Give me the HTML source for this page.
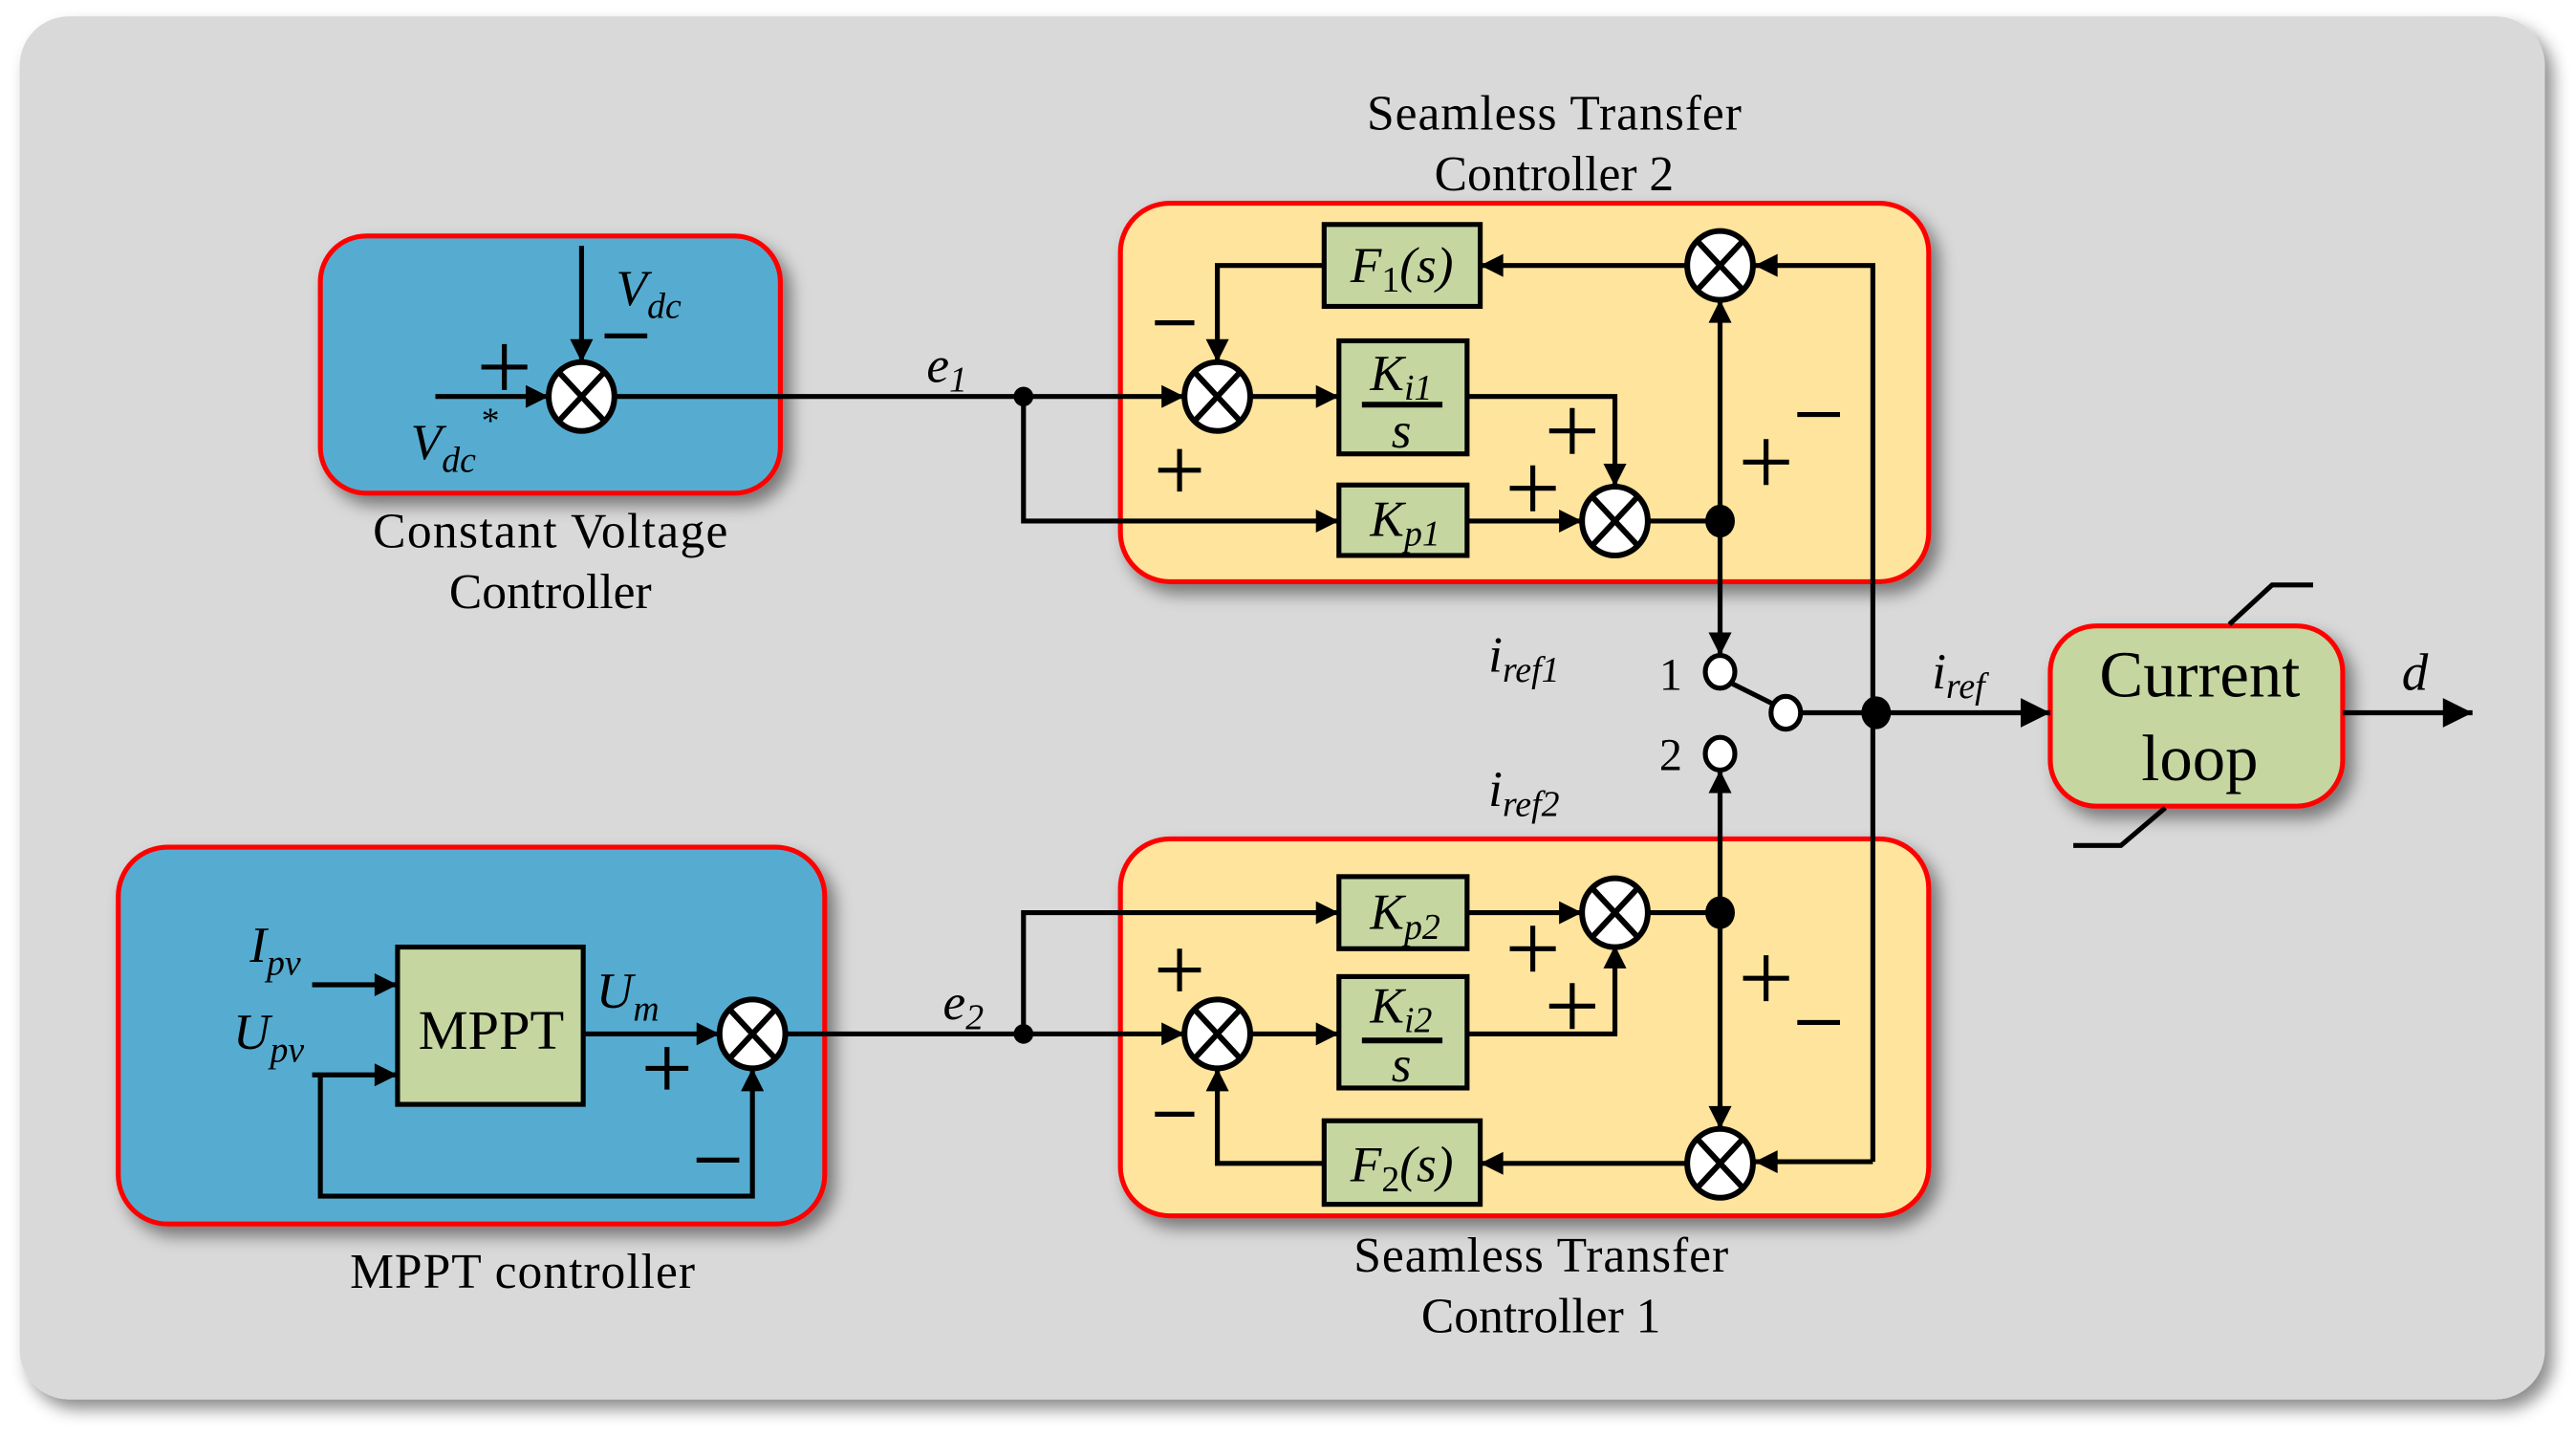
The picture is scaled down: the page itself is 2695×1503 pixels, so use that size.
<!DOCTYPE html>
<html><head><meta charset="utf-8"><style>
html,body{margin:0;padding:0;background:#fff;}
svg{display:block;}
text{font-family:"Liberation Serif",serif;fill:#000;}
.it{font-style:italic;}
</style></head><body>
<svg width="2695" height="1503" viewBox="0 0 1568 877" preserveAspectRatio="none" xmlns="http://www.w3.org/2000/svg">
<defs>
<marker id="a" viewBox="0 0 10 10" refX="10" refY="5" markerWidth="15" markerHeight="14" markerUnits="userSpaceOnUse" orient="auto">
<path d="M0,0 L10,5 L0,10 z" fill="#000"/></marker>
<marker id="b" viewBox="0 0 10 10" refX="10" refY="5" markerWidth="24" markerHeight="18" markerUnits="userSpaceOnUse" orient="auto">
<path d="M0,0 L10,5 L0,10 z" fill="#000"/></marker>
<filter id="sh" x="-10%" y="-10%" width="130%" height="130%"><feDropShadow dx="5" dy="6" stdDeviation="5" flood-color="#000" flood-opacity="0.45"/></filter>
<g id="sum"><ellipse cx="0" cy="0" rx="20" ry="21" fill="#fff" stroke="#000" stroke-width="3.5"/>
<line x1="-13" y1="-14" x2="13" y2="14" stroke="#000" stroke-width="3.5"/><line x1="13" y1="-14" x2="-13" y2="14" stroke="#000" stroke-width="3.5"/></g>
</defs>
<rect x="0" y="0" width="1568" height="877" fill="#fff"/>
<rect x="12" y="10" width="1537" height="844" rx="30" fill="#d9d9d9" filter="url(#sh)"/>

<rect x="195" y="144" width="280" height="157" rx="28" fill="#56acd0" stroke="#f00" stroke-width="3" filter="url(#sh)"/>
<rect x="72" y="517" width="430" height="230" rx="30" fill="#56acd0" stroke="#f00" stroke-width="3" filter="url(#sh)"/>
<rect x="682" y="124" width="492" height="231" rx="30" fill="#fee49c" stroke="#f00" stroke-width="3" filter="url(#sh)"/>
<rect x="682" y="512" width="492" height="230" rx="30" fill="#fee49c" stroke="#f00" stroke-width="3" filter="url(#sh)"/>
<rect x="1248" y="382" width="178" height="110" rx="28" fill="#c5d6a1" stroke="#f00" stroke-width="3" filter="url(#sh)"/>

<g fill="#c5d6a1" stroke="#000" stroke-width="3">
<rect x="806" y="137" width="95" height="50"/>
<rect x="815" y="208" width="78" height="69"/>
<rect x="815" y="296" width="78" height="43"/>
<rect x="815" y="535" width="78" height="44"/>
<rect x="815" y="596" width="78" height="68"/>
<rect x="806" y="684" width="95" height="51"/>
<rect x="242" y="578" width="113" height="96"/>
</g>

<g stroke="#000" stroke-width="3" fill="none">
<line x1="354" y1="150" x2="354" y2="221" marker-end="url(#a)"/>
<line x1="265" y1="242" x2="334" y2="242" marker-end="url(#a)"/>
<line x1="374" y1="242" x2="721" y2="242" marker-end="url(#a)"/>
<polyline points="623,242 623,318 815,318" marker-end="url(#a)"/>
<polyline points="1140,709 1140,162 1068,162" marker-end="url(#a)"/>
<line x1="1027" y1="162" x2="901" y2="162" marker-end="url(#a)"/>
<polyline points="806,162 741,162 741,221" marker-end="url(#a)"/>
<line x1="761" y1="242" x2="815" y2="242" marker-end="url(#a)"/>
<polyline points="893,242 983,242 983,297" marker-end="url(#a)"/>
<line x1="893" y1="318" x2="963" y2="318" marker-end="url(#a)"/>
<line x1="1003" y1="318" x2="1047" y2="318"/>
<line x1="1047" y1="318" x2="1047" y2="183" marker-end="url(#a)"/>
<line x1="1047" y1="318" x2="1047" y2="400" marker-end="url(#a)"/>
<line x1="479" y1="631" x2="721" y2="631" marker-end="url(#a)"/>
<polyline points="623,631 623,557 815,557" marker-end="url(#a)"/>
<line x1="893" y1="557" x2="963" y2="557" marker-end="url(#a)"/>
<polyline points="893,631 983,631 983,577" marker-end="url(#a)"/>
<line x1="761" y1="631" x2="815" y2="631" marker-end="url(#a)"/>
<line x1="1003" y1="557" x2="1047" y2="557"/>
<line x1="1047" y1="557" x2="1047" y2="470" marker-end="url(#a)"/>
<line x1="1047" y1="557" x2="1047" y2="689" marker-end="url(#a)"/>
<polyline points="1140,709 1068,709" marker-end="url(#a)"/>
<line x1="1027" y1="710" x2="901" y2="710" marker-end="url(#a)"/>
<polyline points="806,710 741,710 741,652" marker-end="url(#a)"/>
<line x1="190" y1="601" x2="242" y2="601" marker-end="url(#a)"/>
<line x1="190" y1="656" x2="242" y2="656" marker-end="url(#a)"/>
<polyline points="195,656 195,730 458,730 458,652" marker-end="url(#a)"/>
<line x1="355" y1="631" x2="438" y2="631" marker-end="url(#a)"/>
<line x1="1054" y1="417" x2="1080" y2="430"/>
<line x1="1097" y1="435" x2="1248" y2="435" marker-end="url(#b)"/>
<line x1="1426" y1="435" x2="1505" y2="435" marker-end="url(#b)"/>
<polyline points="1357,381 1383,357 1408,357"/>
<polyline points="1318,493 1291,516 1262,516"/>
</g>

<use href="#sum" x="354" y="242"/>
<use href="#sum" x="741" y="242"/>
<use href="#sum" x="1047" y="162"/>
<use href="#sum" x="983" y="318"/>
<use href="#sum" x="983" y="557"/>
<use href="#sum" x="741" y="631"/>
<use href="#sum" x="1047" y="710"/>
<use href="#sum" x="458" y="631"/>

<g fill="#000">
<circle cx="623" cy="242" r="6"/><circle cx="623" cy="631" r="6"/>
<ellipse cx="1047" cy="318" rx="9" ry="10"/><ellipse cx="1047" cy="557" rx="9" ry="10"/>
<ellipse cx="1142" cy="435" rx="9" ry="10"/>
</g>
<g fill="#fff" stroke="#000" stroke-width="3">
<ellipse cx="1047" cy="410" rx="9" ry="10"/>
<ellipse cx="1047" cy="460" rx="9" ry="10"/>
<ellipse cx="1087" cy="435" rx="9" ry="10"/>
</g>

<g stroke="#000" stroke-width="3">
<path d="M293,224h28M307,210v28"/><path d="M368,205h26"/>
<path d="M703,197h24"/><path d="M705,287h26M718,274v26"/>
<path d="M943,263h28M957,249v28"/><path d="M919,298h28M933,284v28"/>
<path d="M1061,282h28M1075,268v28"/><path d="M1094,253h26"/>
<path d="M705,592h26M718,579v26"/><path d="M703,680h24"/>
<path d="M919,579h28M933,565v28"/><path d="M943,614h28M957,600v28"/>
<path d="M1061,597h28M1075,583v28"/><path d="M1094,624h26"/>
<path d="M393,652h26M406,639v26"/><path d="M424,708h26"/>
</g>

<g font-size="30" text-anchor="middle">
<text x="946" y="79" textLength="228">Seamless Transfer</text>
<text x="946" y="116">Controller 2</text>
<text x="938" y="776" textLength="228">Seamless Transfer</text>
<text x="938" y="813">Controller 1</text>
<text x="335" y="334" textLength="216">Constant Voltage</text>
<text x="335" y="371">Controller</text>
<text x="318" y="786" textLength="210">MPPT controller</text>
<text x="299" y="640" font-size="34">MPPT</text>
<text x="1339" y="425" font-size="40">Current</text>
<text x="1339" y="476" font-size="40">loop</text>
<text x="1017" y="421" font-size="28">1</text>
<text x="1017" y="470" font-size="28">2</text>
</g>
<g font-size="31" class="it">
<text x="375" y="186" class="it">V<tspan font-size="22" dy="8">dc</tspan></text>
<text x="250" y="280" class="it">V<tspan font-size="22" dy="8">dc</tspan></text>
<text x="292" y="264" font-size="22">*</text>
<text x="564" y="233" class="it">e<tspan font-size="22" dy="6">1</tspan></text>
<text x="574" y="622" class="it">e<tspan font-size="22" dy="6">2</tspan></text>
<text x="152" y="587" class="it">I<tspan font-size="22" dy="8">pv</tspan></text>
<text x="142" y="640" class="it">U<tspan font-size="22" dy="8">pv</tspan></text>
<text x="363" y="615" class="it">U<tspan font-size="22" dy="8">m</tspan></text>
<text x="906" y="410" class="it">i<tspan font-size="22" dy="6">ref1</tspan></text>
<text x="906" y="492" class="it">i<tspan font-size="22" dy="6">ref2</tspan></text>
<text x="1176" y="420" class="it">i<tspan font-size="22" dy="6">ref</tspan></text>
<text x="1462" y="421" class="it" font-size="32">d</text>
<text x="822" y="172" class="it">F<tspan font-style="normal" font-size="22" dy="6">1</tspan><tspan dy="-6">(s)</tspan></text>
<text x="822" y="721" class="it">F<tspan font-style="normal" font-size="22" dy="6">2</tspan><tspan dy="-6">(s)</tspan></text>
<text x="834" y="238" class="it">K<tspan font-size="22" dy="6">i1</tspan></text>
<text x="853" y="273" class="it" text-anchor="middle">s</text>
<text x="834" y="327" class="it">K<tspan font-size="22" dy="6">p1</tspan></text>
<text x="834" y="567" class="it">K<tspan font-size="22" dy="6">p2</tspan></text>
<text x="834" y="624" class="it">K<tspan font-size="22" dy="6">i2</tspan></text>
<text x="853" y="660" class="it" text-anchor="middle">s</text>
</g>
<g stroke="#000" stroke-width="3.5"><line x1="829" y1="247" x2="878" y2="247"/><line x1="829" y1="635" x2="878" y2="635"/></g>
</svg>
</body></html>
